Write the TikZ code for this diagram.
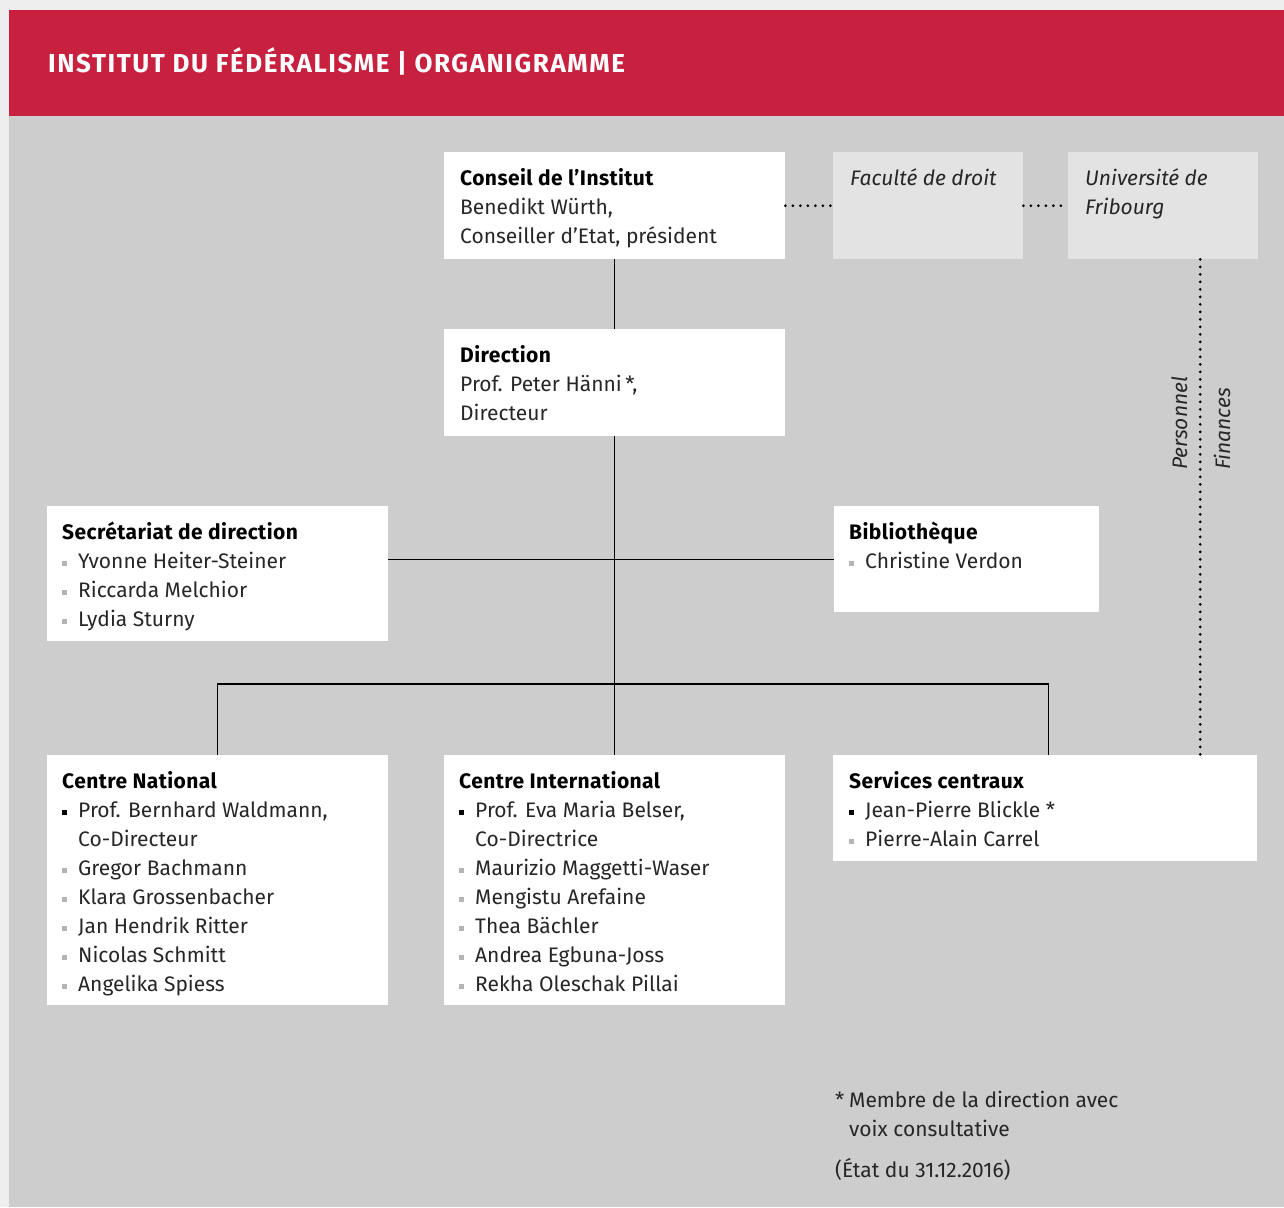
\documentclass[tikz,border=0pt]{standalone}
\usepackage{fontspec}
\setmainfont{Fira Sans}
\definecolor{ifred}{HTML}{C8203F}
\definecolor{ifgrey}{HTML}{CDCDCD}
\definecolor{iflight}{HTML}{E3E3E3}
\definecolor{ifmargin}{HTML}{EEEEEE}
\definecolor{bulgrey}{HTML}{B4B4B4}
\newcommand{\gbul}{\textcolor{bulgrey}{\rule[2pt]{5pt}{5pt}}\hspace{11pt}}
\newcommand{\kbul}{\textcolor{black}{\rule[2pt]{5pt}{5pt}}\hspace{11pt}}
\newcommand{\hang}{\hspace*{16pt}}
\newcommand{\hd}[1]{{\bfseries\addfontfeature{LetterSpace=2}\color{black}#1}}
\newcommand{\lines}[1]{\begin{tabular}[t]{@{}l@{}}#1\end{tabular}}

\begin{document}
\begin{tikzpicture}[x=1pt,y=-1pt,
  box/.style={fill=white, anchor=north west, inner sep=0pt},
  lightbox/.style={box, fill=iflight},
  txt/.style={anchor=base west, inner sep=0pt, font=\fontsize{21}{29}\selectfont, text=black!85},
  link/.style={draw=black, line width=1.2pt},
  dots/.style={draw=black, line width=3pt, line cap=round, dash pattern=on 0pt off 7.5pt}]

  % background and title band
  \fill[ifmargin] (0,0) rectangle (1284,1207);
  \fill[ifgrey] (9,116) rectangle (1284,1207);
  \fill[ifred] (9,10) rectangle (1284,116);
  \node[anchor=base west, inner sep=0pt, text=white, font=\fontsize{26}{30}\selectfont\bfseries\addfontfeature{LetterSpace=6}] (title) at (48,72) {INSTITUT DU FÉDÉRALISME | ORGANIGRAMME};

  % boxes
  \node[box, minimum width=341pt, minimum height=107pt] (conseil) at (444,152) {};
  \node[lightbox, minimum width=190pt, minimum height=107pt] (fac) at (833,152) {};
  \node[lightbox, minimum width=190pt, minimum height=107pt] (uni) at (1068,152) {};
  \node[box, minimum width=341pt, minimum height=107pt] (direction) at (444,329) {};
  \node[box, minimum width=341pt, minimum height=135pt] (secr) at (47,506) {};
  \node[box, minimum width=265pt, minimum height=106pt] (biblio) at (834,506) {};
  \node[box, minimum width=341pt, minimum height=250pt] (cnat) at (47,755) {};
  \node[box, minimum width=341pt, minimum height=250pt] (cint) at (444,755) {};
  \node[box, minimum width=424pt, minimum height=106pt] (serv) at (833,755) {};

  % texts
  \node[txt] (conseil-t) at (460,185) {\lines{\hd{Conseil de l’Institut}\\Benedikt Würth,\\Conseiller d’Etat, président}};
  \node[txt] (fac-t) at (850,185) {\itshape Faculté de droit};
  \node[txt] (uni-t) at (1085,185) {\itshape\lines{Université de\\Fribourg}};
  \node[txt] (direction-t) at (460,362) {\lines{\hd{Direction}\\Prof. Peter Hänni\,*,\\Directeur}};
  \node[txt] (secr-t) at (62,539) {\lines{\hd{Secrétariat de direction}\\\gbul Yvonne Heiter-Steiner\\\gbul Riccarda Melchior\\\gbul Lydia Sturny}};
  \node[txt] (biblio-t) at (849,539) {\lines{\hd{Bibliothèque}\\\gbul Christine Verdon}};
  \node[txt] (cnat-t) at (62,788) {\lines{\hd{Centre National}\\\kbul Prof. Bernhard Waldmann,\\\hang Co-Directeur\\\gbul Gregor Bachmann\\\gbul Klara Grossenbacher\\\gbul Jan Hendrik Ritter\\\gbul Nicolas Schmitt\\\gbul Angelika Spiess}};
  \node[txt] (cint-t) at (459,788) {\lines{\hd{Centre International}\\\kbul Prof. Eva Maria Belser,\\\hang Co-Directrice\\\gbul Maurizio Maggetti-Waser\\\gbul Mengistu Arefaine\\\gbul Thea Bächler\\\gbul Andrea Egbuna-Joss\\\gbul Rekha Oleschak Pillai}};
  \node[txt] (serv-t) at (849,788) {\lines{\hd{Services centraux}\\\kbul Jean-Pierre Blickle *\\\gbul Pierre-Alain Carrel}};

  % links
  \coordinate (fork) at (614,684);
  \draw[link] (conseil.south) -- (direction.north);
  \draw[link] (direction.south) -- (cint.north);
  \draw[link] (secr.east |- biblio.west) -- (biblio.west);
  \draw[link] (cnat.north) |- (fork) -| ([xshift=3pt]serv.north);
  \draw[dots] (conseil.east) -- (fac.west);
  \draw[dots] (fac.east) -- (uni.west);
  \draw[dots] ([xshift=37pt]uni.south) -- ([xshift=37pt]uni.south |- serv.north);

  % rotated labels
  \node[txt, rotate=90] (pers) at (1187,470) {\itshape Personnel};
  \node[txt, rotate=90] (fin) at (1230,470) {\itshape Finances};

  % footnote
  \node[txt] (note) at (835,1107) {\lines{\makebox[14pt][l]{*}Membre de la direction avec\\\hspace*{14pt}voix consultative\\[12pt](État du 31.12.2016)}};
\end{tikzpicture}
\end{document}
